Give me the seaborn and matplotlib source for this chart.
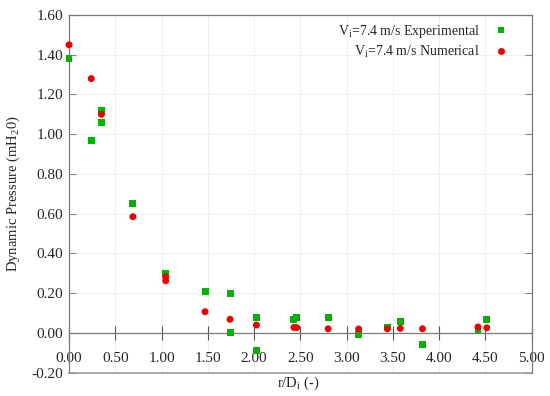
import numpy as np
import pandas as pd
import matplotlib.pyplot as plt
import seaborn as sns

exp_x = [0.0, 0.24, 0.35, 0.35, 0.69, 1.045, 1.47, 1.74, 1.74, 2.025, 2.025,
         2.43, 2.46, 2.80, 3.13, 3.44, 3.58, 3.82, 4.42, 4.515]
exp_y = [1.38, 0.97, 1.12, 1.06, 0.65, 0.30, 0.21, 0.20, 0.00, 0.08, -0.09,
         0.07, 0.08, 0.08, -0.01, 0.03, 0.06, -0.06, 0.015, 0.07]
num_x = [0.0, 0.24, 0.35, 0.69, 1.045, 1.045, 1.47, 1.74, 2.025, 2.43, 2.46,
         2.80, 3.13, 3.44, 3.58, 3.82, 4.42, 4.515]
num_y = [1.45, 1.28, 1.10, 0.585, 0.283, 0.263, 0.107, 0.069, 0.04, 0.028, 0.027,
         0.021, 0.02, 0.021, 0.023, 0.021, 0.03, 0.026]
lab_exp = r'V$_\mathrm{i}$=7.4 m/s Experimental'
lab_num = r'V$_\mathrm{i}$=7.4 m/s Numerical'

df = pd.concat([
    pd.DataFrame({'x': exp_x, 'y': exp_y, 'series': lab_exp}),
    pd.DataFrame({'x': num_x, 'y': num_y, 'series': lab_num}),
])

sns.set_style('ticks')
plt.rcParams['font.family'] = ['Liberation Serif', 'DejaVu Serif']
plt.rcParams['mathtext.fontset'] = 'custom'
plt.rcParams['mathtext.rm'] = 'Liberation Serif'

fig = plt.figure(figsize=(5.5, 3.96), dpi=100)
ax = fig.add_axes([0.1255, 0.0588, 0.8412, 0.9033])

sns.scatterplot(data=df, x='x', y='y', hue='series', style='series',
                palette={lab_exp: '#00b400', lab_num: '#ee0000'},
                markers={lab_exp: 's', lab_num: 'o'}, s=25, linewidth=0, ax=ax)
for c in ax.collections:
    c.set_clip_on(False)
    c.set_zorder(3)

ax.set_xlim(0, 5)
ax.set_ylim(-0.2, 1.6)
ax.set_xticks(np.arange(0, 5.01, 0.5))
ax.set_yticks(np.arange(-0.2, 1.61, 0.2))
ax.xaxis.set_major_formatter(plt.FormatStrFormatter('%.2f'))
ax.yaxis.set_major_formatter(plt.FormatStrFormatter('%.2f'))
ax.grid(True, color='#ededed', linewidth=0.6)

ax.spines['bottom'].set_position(('data', 0))
for s in ['left', 'right', 'top', 'bottom']:
    ax.spines[s].set_color('#7a7a7a')
    ax.spines[s].set_linewidth(0.9)
ax.axhline(ax.get_ylim()[0], color='#9a9a9a', linewidth=1.2, clip_on=False)

ax.tick_params(axis='x', direction='inout', length=10, width=0.8, color='#555555',
               labelsize=11, pad=9)
ax.tick_params(axis='y', direction='in', length=5, width=0.8, color='#888888',
               labelsize=11, right=True, pad=4)

ax.set_xlabel(r'r/D$_\mathrm{i}$ (-)', fontsize=10.5)
ax.set_ylabel(r'Dynamic Pressure (mH$_2$0)', fontsize=10.5)
ax.xaxis.set_label_coords(0.495, -0.006)
ax.yaxis.set_label_coords(-0.101, 0.5)

leg = ax.legend(loc='upper right', frameon=False, markerfirst=False, fontsize=10,
                handletextpad=0.5, borderaxespad=0.5, labelspacing=0.25,
                bbox_to_anchor=(0.99, 1.012))

fig.savefig('out.png', dpi=100)
